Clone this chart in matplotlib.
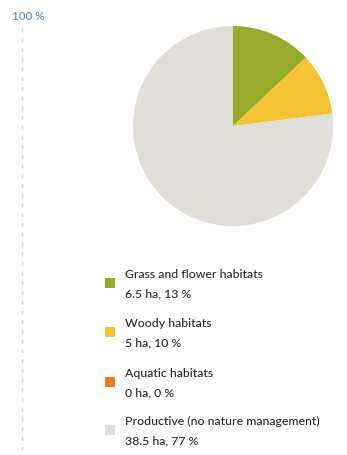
import matplotlib.pyplot as plt
from matplotlib.patches import Rectangle

# habitat data
labels = ["Grass and flower habitats", "Woody habitats", "Aquatic habitats",
          "Productive (no nature management)"]
hectares = [6.5, 5, 0, 38.5]
percents = [13, 10, 0, 77]
colors = ["#9aaa2c", "#f4c232", "#ec7d1c", "#e1ddd7"]

W, H = 347, 455
fig = plt.figure(figsize=(W / 100, H / 100), dpi=100)
plt.rcParams['font.family'] = ['Lato', 'DejaVu Sans']

# background axes in pixel coords (y down)
bg = fig.add_axes([0, 0, 1, 1])
bg.set_xlim(0, W)
bg.set_ylim(H, 0)
bg.axis("off")

# dashed scale line and label
bg.plot([22, 22], [28, H], color="#c8dbe3", lw=1.0, ls=(0, (3, 4)))
bg.text(12, 17, "100 %", color="#6b94aa", fontsize=8.3, va="center", ha="left",
        fontweight="semibold")

# pie
cx, cy, r = 233, 126, 100
pax = fig.add_axes([(cx - r) / W, (H - cy - r) / H, 2 * r / W, 2 * r / H])
pax.pie(percents, colors=colors, startangle=90, counterclock=False,
        wedgeprops=dict(linewidth=0))
pax.set_xlim(-1, 1)
pax.set_ylim(-1, 1)
pax.set_aspect("equal")
pax.axis("off")

# legend
ys = [283, 332, 382, 430]
for lab, ha, pc, col, y in zip(labels, hectares, percents, colors, ys):
    bg.add_patch(Rectangle((105, y - 5), 10, 10, color=col, lw=0))
    hs = f"{ha:g} ha, {pc} %"
    bg.text(125, y - 8.5, lab, fontsize=8.8, color="#2a2a2a", va="center",
            fontweight="medium")
    bg.text(125, y + 11, hs, fontsize=8.8, color="#2a2a2a", va="center",
            fontweight="medium")

fig.savefig("out.png", dpi=100)
